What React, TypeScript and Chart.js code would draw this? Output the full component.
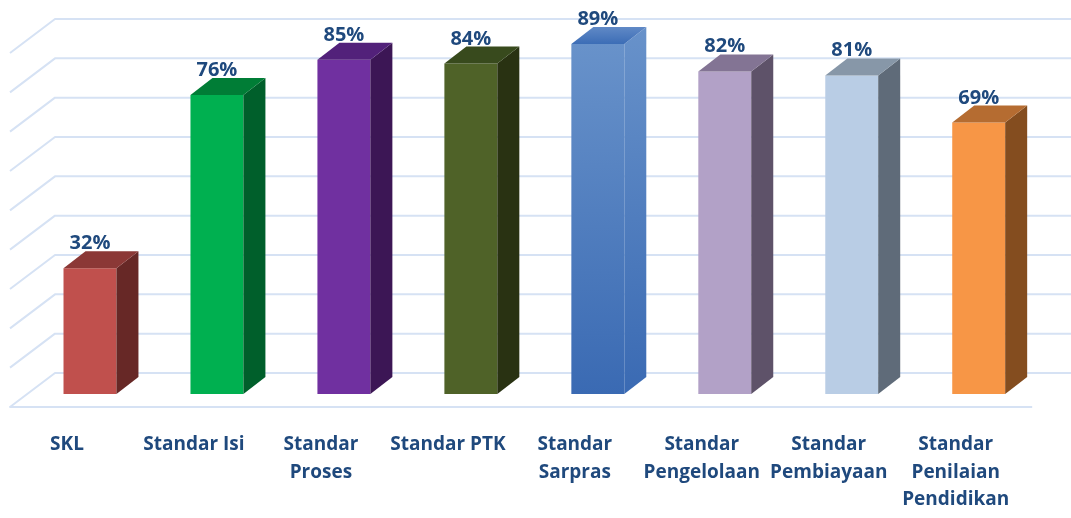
import React, { useEffect, useRef } from 'react';
import { Chart, registerables } from 'chart.js';

Chart.register(...registerables);

const categories: (string | string[])[] = [
  'SKL',
  'Standar Isi',
  ['Standar', 'Proses'],
  'Standar PTK',
  ['Standar', 'Sarpras'],
  ['Standar', 'Pengelolaan'],
  ['Standar', 'Pembiayaan'],
  ['Standar', 'Penilaian', 'Pendidikan'],
];
const values = [32, 76, 85, 84, 89, 82, 81, 69];
const yTicks = [0, 10, 20, 30, 40, 50, 60, 70, 80, 90];

const frontColors = ['#C0504D', '#00B050', '#7030A0', '#4F6228', '#5082C3', '#B2A1C7', '#B9CDE5', '#F79646'];
const sideColors = ['#672826', '#005F2B', '#3C1655', '#293212', '#5283C4', '#5E5269', '#5F6B79', '#844D1F'];
const topColors = ['#8B3836', '#007D36', '#52217A', '#384A1D', '#4A7BBF', '#837494', '#8797A8', '#B56C31'];
const gradientIndex = 4; // Standar Sarpras
const gradientFront = ['#6892CA', '#3A6AB3'];
const gradientTop = ['#3C6DB6', '#6089C6'];

const TEXT_COLOR = '#1F497D';
const GRID_COLOR = '#D6E2F4';
const DX = 22;
const DY = 17;
const WALL_BACK_X = 28.5;
const WALL_BACK_Y = 21;
const WALL_FRONT_X = 16.5;
const WALL_FRONT_Y = 13;

function vGrad(ctx: CanvasRenderingContext2D, y0: number, y1: number, c: string[]) {
  const g = ctx.createLinearGradient(0, y0, 0, y1);
  g.addColorStop(0, c[0]);
  g.addColorStop(1, c[1]);
  return g;
}

const box3dPlugin = {
  id: 'box3d',
  beforeDatasetsDraw(chart: any) {
    const { ctx, chartArea, scales } = chart;
    const y = scales.y;
    ctx.save();
    ctx.strokeStyle = GRID_COLOR;
    ctx.lineWidth = 2;
    ctx.lineJoin = 'round';
    for (const v of yTicks) {
      const yb = y.getPixelForValue(v) - WALL_BACK_Y;
      const xb = chartArea.left + WALL_BACK_X;
      const yf = yb + WALL_BACK_Y + WALL_FRONT_Y;
      const xf = chartArea.left - WALL_FRONT_X;
      ctx.beginPath();
      ctx.moveTo(chart.width + 5, yb);
      ctx.lineTo(xb, yb);
      ctx.lineTo(xf, yf);
      if (v === 0) ctx.lineTo(chartArea.right - 10, yf);
      ctx.stroke();
    }
    ctx.restore();
  },
  afterDatasetsDraw(chart: any) {
    const { ctx } = chart;
    const meta = chart.getDatasetMeta(0);
    meta.data.forEach((bar: any, i: number) => {
      const { x, y, base, width } = bar.getProps(['x', 'y', 'base', 'width'], true);
      const l = x - width / 2;
      const r = x + width / 2;
      ctx.save();
      // side face
      ctx.beginPath();
      ctx.moveTo(r, y);
      ctx.lineTo(r + DX, y - DY);
      ctx.lineTo(r + DX, base - DY);
      ctx.lineTo(r, base);
      ctx.closePath();
      ctx.fillStyle = i === gradientIndex ? vGrad(ctx, y - DY, base, gradientFront) : sideColors[i];
      ctx.fill();
      // top face
      ctx.beginPath();
      ctx.moveTo(l, y);
      ctx.lineTo(l + DX, y - DY);
      ctx.lineTo(r + DX, y - DY);
      ctx.lineTo(r, y);
      ctx.closePath();
      ctx.fillStyle = i === gradientIndex ? vGrad(ctx, y, y - DY, gradientTop) : topColors[i];
      ctx.fill();
      // value label
      ctx.fillStyle = TEXT_COLOR;
      ctx.font = 'bold 20px "Open Sans"';
      ctx.textAlign = 'center';
      ctx.textBaseline = 'alphabetic';
      ctx.fillText(values[i] + '%', x, y - DY - 2);
      ctx.restore();
    });
  },
};

export default function App() {
  const canvasRef = useRef<HTMLCanvasElement | null>(null);

  useEffect(() => {
    const canvas = canvasRef.current;
    if (!canvas) return;
    const chart = new Chart(canvas, {
      type: 'bar',
      data: {
        labels: categories,
        datasets: [
          {
            data: values,
            backgroundColor: (c: any) => {
              const i = c.dataIndex;
              if (i !== gradientIndex || !c.chart.chartArea) return frontColors[i];
              const ys = c.chart.scales.y;
              return vGrad(c.chart.ctx, ys.getPixelForValue(values[i]), ys.getPixelForValue(0), gradientFront);
            },
            borderWidth: 0,
            categoryPercentage: 1,
            barPercentage: 0.417,
          },
        ],
      },
      options: {
        responsive: false,
        animation: false,
        devicePixelRatio: 1,
        layout: { padding: { left: 26.5, right: 28.5, top: 40, bottom: 0 } },
        plugins: {
          legend: { display: false },
          tooltip: { enabled: false },
          title: { display: false },
        },
        scales: {
          x: {
            grid: { display: false, drawTicks: false },
            border: { display: false },
            afterFit: (scale: any) => {
              scale.height = 124;
            },
            ticks: {
              autoSkip: false,
              maxRotation: 0,
              minRotation: 0,
              padding: 37,
              labelOffset: -23,
              color: TEXT_COLOR,
              font: { family: '"Open Sans"', size: 19, weight: 'bold', lineHeight: 1.45 },
            },
          },
          y: {
            display: false,
            min: 0,
            max: 90,
          },
        },
      },
      plugins: [box3dPlugin],
    } as any);
    return () => chart.destroy();
  }, []);

  return (
    <div style={{ position: 'absolute', left: 0, top: 0, width: 1071, height: 518, background: '#ffffff' }}>
      <canvas ref={canvasRef} width={1071} height={518} />
    </div>
  );
}
